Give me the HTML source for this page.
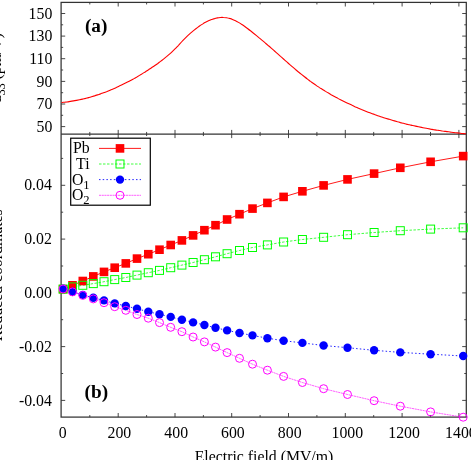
<!DOCTYPE html>
<html><head><meta charset="utf-8"><title>chart</title>
<style>html,body{margin:0;padding:0;background:#fff;width:471px;height:460px;overflow:hidden;font-family:"Liberation Serif",serif}</style>
</head><body>
<svg width="471" height="460" viewBox="0 0 471 460" style="position:absolute;left:0;top:0;will-change:transform">
<rect width="471" height="460" fill="#fff"/>
<g stroke="#333" stroke-width="1.25" fill="none">
<rect x="61.1" y="2.4" width="405.2" height="414.70000000000005"/>
<line x1="61.1" y1="134.0" x2="466.3" y2="134.0"/>
</g>
<g stroke="#333" stroke-width="0.9" fill="none">
<line x1="89.8" y1="2.4" x2="89.8" y2="4.449999999999999"/>
<line x1="89.8" y1="131.95" x2="89.8" y2="136.05"/>
<line x1="89.8" y1="417.1" x2="89.8" y2="415.05"/>
<line x1="118.2" y1="2.4" x2="118.2" y2="6.5"/>
<line x1="118.2" y1="129.9" x2="118.2" y2="138.1"/>
<line x1="118.2" y1="417.1" x2="118.2" y2="413.0"/>
<line x1="146.6" y1="2.4" x2="146.6" y2="4.449999999999999"/>
<line x1="146.6" y1="131.95" x2="146.6" y2="136.05"/>
<line x1="146.6" y1="417.1" x2="146.6" y2="415.05"/>
<line x1="175.0" y1="2.4" x2="175.0" y2="6.5"/>
<line x1="175.0" y1="129.9" x2="175.0" y2="138.1"/>
<line x1="175.0" y1="417.1" x2="175.0" y2="413.0"/>
<line x1="203.4" y1="2.4" x2="203.4" y2="4.449999999999999"/>
<line x1="203.4" y1="131.95" x2="203.4" y2="136.05"/>
<line x1="203.4" y1="417.1" x2="203.4" y2="415.05"/>
<line x1="231.7" y1="2.4" x2="231.7" y2="6.5"/>
<line x1="231.7" y1="129.9" x2="231.7" y2="138.1"/>
<line x1="231.7" y1="417.1" x2="231.7" y2="413.0"/>
<line x1="260.1" y1="2.4" x2="260.1" y2="4.449999999999999"/>
<line x1="260.1" y1="131.95" x2="260.1" y2="136.05"/>
<line x1="260.1" y1="417.1" x2="260.1" y2="415.05"/>
<line x1="288.5" y1="2.4" x2="288.5" y2="6.5"/>
<line x1="288.5" y1="129.9" x2="288.5" y2="138.1"/>
<line x1="288.5" y1="417.1" x2="288.5" y2="413.0"/>
<line x1="316.9" y1="2.4" x2="316.9" y2="4.449999999999999"/>
<line x1="316.9" y1="131.95" x2="316.9" y2="136.05"/>
<line x1="316.9" y1="417.1" x2="316.9" y2="415.05"/>
<line x1="345.3" y1="2.4" x2="345.3" y2="6.5"/>
<line x1="345.3" y1="129.9" x2="345.3" y2="138.1"/>
<line x1="345.3" y1="417.1" x2="345.3" y2="413.0"/>
<line x1="373.7" y1="2.4" x2="373.7" y2="4.449999999999999"/>
<line x1="373.7" y1="131.95" x2="373.7" y2="136.05"/>
<line x1="373.7" y1="417.1" x2="373.7" y2="415.05"/>
<line x1="402.1" y1="2.4" x2="402.1" y2="6.5"/>
<line x1="402.1" y1="129.9" x2="402.1" y2="138.1"/>
<line x1="402.1" y1="417.1" x2="402.1" y2="413.0"/>
<line x1="430.5" y1="2.4" x2="430.5" y2="4.449999999999999"/>
<line x1="430.5" y1="131.95" x2="430.5" y2="136.05"/>
<line x1="430.5" y1="417.1" x2="430.5" y2="415.05"/>
<line x1="458.9" y1="2.4" x2="458.9" y2="6.5"/>
<line x1="458.9" y1="129.9" x2="458.9" y2="138.1"/>
<line x1="458.9" y1="417.1" x2="458.9" y2="413.0"/>
<line x1="61.1" y1="126.6" x2="65.2" y2="126.6"/>
<line x1="466.3" y1="126.6" x2="462.2" y2="126.6"/>
<line x1="61.1" y1="115.3" x2="63.15" y2="115.3"/>
<line x1="466.3" y1="115.3" x2="464.25" y2="115.3"/>
<line x1="61.1" y1="104.0" x2="65.2" y2="104.0"/>
<line x1="466.3" y1="104.0" x2="462.2" y2="104.0"/>
<line x1="61.1" y1="92.7" x2="63.15" y2="92.7"/>
<line x1="466.3" y1="92.7" x2="464.25" y2="92.7"/>
<line x1="61.1" y1="81.4" x2="65.2" y2="81.4"/>
<line x1="466.3" y1="81.4" x2="462.2" y2="81.4"/>
<line x1="61.1" y1="70.0" x2="63.15" y2="70.0"/>
<line x1="466.3" y1="70.0" x2="464.25" y2="70.0"/>
<line x1="61.1" y1="58.7" x2="65.2" y2="58.7"/>
<line x1="466.3" y1="58.7" x2="462.2" y2="58.7"/>
<line x1="61.1" y1="47.4" x2="63.15" y2="47.4"/>
<line x1="466.3" y1="47.4" x2="464.25" y2="47.4"/>
<line x1="61.1" y1="36.1" x2="65.2" y2="36.1"/>
<line x1="466.3" y1="36.1" x2="462.2" y2="36.1"/>
<line x1="61.1" y1="24.8" x2="63.15" y2="24.8"/>
<line x1="466.3" y1="24.8" x2="464.25" y2="24.8"/>
<line x1="61.1" y1="13.5" x2="65.2" y2="13.5"/>
<line x1="466.3" y1="13.5" x2="462.2" y2="13.5"/>
<line x1="61.1" y1="400.4" x2="65.2" y2="400.4"/>
<line x1="466.3" y1="400.4" x2="462.2" y2="400.4"/>
<line x1="61.1" y1="373.5" x2="63.15" y2="373.5"/>
<line x1="466.3" y1="373.5" x2="464.25" y2="373.5"/>
<line x1="61.1" y1="346.6" x2="65.2" y2="346.6"/>
<line x1="466.3" y1="346.6" x2="462.2" y2="346.6"/>
<line x1="61.1" y1="319.7" x2="63.15" y2="319.7"/>
<line x1="466.3" y1="319.7" x2="464.25" y2="319.7"/>
<line x1="61.1" y1="292.9" x2="65.2" y2="292.9"/>
<line x1="466.3" y1="292.9" x2="462.2" y2="292.9"/>
<line x1="61.1" y1="266.0" x2="63.15" y2="266.0"/>
<line x1="466.3" y1="266.0" x2="464.25" y2="266.0"/>
<line x1="61.1" y1="239.1" x2="65.2" y2="239.1"/>
<line x1="466.3" y1="239.1" x2="462.2" y2="239.1"/>
<line x1="61.1" y1="212.2" x2="63.15" y2="212.2"/>
<line x1="466.3" y1="212.2" x2="464.25" y2="212.2"/>
<line x1="61.1" y1="185.3" x2="65.2" y2="185.3"/>
<line x1="466.3" y1="185.3" x2="462.2" y2="185.3"/>
<line x1="61.1" y1="158.4" x2="63.15" y2="158.4"/>
<line x1="466.3" y1="158.4" x2="464.25" y2="158.4"/>
</g>
<path d="M61.5,102.5C62.0,102.5 63.5,102.3 64.5,102.2C65.5,102.1 66.5,102.0 67.5,101.9C68.5,101.7 69.5,101.6 70.5,101.4C71.5,101.3 72.5,101.1 73.5,100.9C74.5,100.8 75.5,100.6 76.5,100.4C77.5,100.2 78.5,100.0 79.5,99.8C80.5,99.6 81.5,99.4 82.5,99.1C83.5,98.9 84.5,98.6 85.5,98.4C86.5,98.1 87.5,97.9 88.5,97.6C89.5,97.3 90.5,97.1 91.5,96.8C92.5,96.5 93.5,96.2 94.5,95.9C95.5,95.5 96.5,95.2 97.5,94.9C98.5,94.6 99.5,94.2 100.5,93.9C101.5,93.5 102.5,93.2 103.5,92.8C104.5,92.4 105.5,92.0 106.5,91.7C107.5,91.3 108.5,90.9 109.5,90.5C110.5,90.1 111.5,89.6 112.5,89.2C113.5,88.8 114.5,88.4 115.5,87.9C116.5,87.5 117.5,87.0 118.5,86.5C119.5,86.1 120.5,85.6 121.5,85.1C122.5,84.6 123.5,84.1 124.5,83.6C125.5,83.1 126.5,82.6 127.5,82.1C128.5,81.6 129.5,81.1 130.5,80.5C131.5,80.0 132.5,79.4 133.5,78.9C134.5,78.3 135.5,77.7 136.5,77.2C137.5,76.6 138.5,76.0 139.5,75.4C140.5,74.8 141.5,74.2 142.5,73.6C143.5,73.0 144.5,72.3 145.5,71.7C146.5,71.1 147.5,70.4 148.5,69.8C149.5,69.1 150.5,68.5 151.5,67.8C152.5,67.1 153.5,66.5 154.5,65.8C155.5,65.1 156.5,64.4 157.5,63.7C158.5,62.9 159.5,62.2 160.5,61.4C161.5,60.7 162.5,59.9 163.5,59.1C164.5,58.3 165.5,57.5 166.5,56.7C167.5,55.8 168.5,55.0 169.5,54.1C170.5,53.2 171.5,52.3 172.5,51.3C173.5,50.4 174.5,49.4 175.5,48.4C176.5,47.4 177.5,46.3 178.5,45.3C179.5,44.2 180.5,43.1 181.5,42.0C182.5,40.9 183.5,39.8 184.5,38.8C185.5,37.8 186.5,36.8 187.5,35.8C188.5,34.9 189.5,34.0 190.5,33.1C191.5,32.2 192.5,31.4 193.5,30.6C194.5,29.8 195.5,29.0 196.5,28.2C197.5,27.5 198.5,26.7 199.5,26.0C200.5,25.3 201.5,24.7 202.5,24.1C203.5,23.4 204.5,22.8 205.5,22.3C206.5,21.8 207.5,21.3 208.5,20.8C209.5,20.3 210.5,19.9 211.5,19.5C212.5,19.2 213.5,18.8 214.5,18.6C215.5,18.3 216.5,18.1 217.5,17.9C218.5,17.7 219.5,17.6 220.5,17.5C221.5,17.4 222.5,17.4 223.5,17.5C224.5,17.5 225.5,17.6 226.5,17.7C227.5,17.9 228.5,18.1 229.5,18.4C230.5,18.6 231.5,19.0 232.5,19.4C233.5,19.8 234.5,20.2 235.5,20.7C236.5,21.2 237.5,21.8 238.5,22.4C239.5,23.0 240.5,23.6 241.5,24.3C242.5,24.9 243.5,25.6 244.5,26.3C245.5,27.1 246.5,27.8 247.5,28.5C248.5,29.3 249.5,30.1 250.5,30.8C251.5,31.6 252.5,32.4 253.5,33.2C254.5,34.0 255.5,34.8 256.5,35.6C257.5,36.4 258.5,37.2 259.5,38.1C260.5,38.9 261.5,39.8 262.5,40.6C263.5,41.4 264.5,42.3 265.5,43.2C266.5,44.0 267.5,44.9 268.5,45.8C269.5,46.6 270.5,47.5 271.5,48.4C272.5,49.3 273.5,50.1 274.5,51.0C275.5,51.9 276.5,52.8 277.5,53.7C278.5,54.6 279.5,55.5 280.5,56.4C281.5,57.2 282.5,58.1 283.5,59.0C284.5,59.9 285.5,60.8 286.5,61.7C287.5,62.6 288.5,63.4 289.5,64.3C290.5,65.2 291.5,66.0 292.5,66.9C293.5,67.8 294.5,68.6 295.5,69.5C296.5,70.3 297.5,71.1 298.5,72.0C299.5,72.8 300.5,73.6 301.5,74.4C302.5,75.2 303.5,76.0 304.5,76.8C305.5,77.6 306.5,78.4 307.5,79.1C308.5,79.9 309.5,80.6 310.5,81.4C311.5,82.1 312.5,82.8 313.5,83.5C314.5,84.2 315.5,84.9 316.5,85.6C317.5,86.3 318.5,86.9 319.5,87.6C320.5,88.2 321.5,88.9 322.5,89.5C323.5,90.1 324.5,90.7 325.5,91.4C326.5,92.0 327.5,92.6 328.5,93.1C329.5,93.7 330.5,94.3 331.5,94.9C332.5,95.4 333.5,96.0 334.5,96.5C335.5,97.1 336.5,97.6 337.5,98.1C338.5,98.7 339.5,99.2 340.5,99.7C341.5,100.2 342.5,100.7 343.5,101.2C344.5,101.7 345.5,102.2 346.5,102.7C347.5,103.2 348.5,103.7 349.5,104.1C350.5,104.6 351.5,105.1 352.5,105.5C353.5,106.0 354.5,106.4 355.5,106.9C356.5,107.3 357.5,107.8 358.5,108.2C359.5,108.6 360.5,109.0 361.5,109.5C362.5,109.9 363.5,110.3 364.5,110.7C365.5,111.1 366.5,111.5 367.5,111.9C368.5,112.3 369.5,112.6 370.5,113.0C371.5,113.4 372.5,113.8 373.5,114.1C374.5,114.5 375.5,114.8 376.5,115.2C377.5,115.6 378.5,115.9 379.5,116.2C380.5,116.6 381.5,116.9 382.5,117.2C383.5,117.6 384.5,117.9 385.5,118.2C386.5,118.5 387.5,118.8 388.5,119.1C389.5,119.5 390.5,119.8 391.5,120.0C392.5,120.3 393.5,120.6 394.5,120.9C395.5,121.2 396.5,121.5 397.5,121.8C398.5,122.0 399.5,122.3 400.5,122.6C401.5,122.8 402.5,123.1 403.5,123.3C404.5,123.6 405.5,123.8 406.5,124.1C407.5,124.3 408.5,124.6 409.5,124.8C410.5,125.0 411.5,125.3 412.5,125.5C413.5,125.7 414.5,125.9 415.5,126.1C416.5,126.4 417.5,126.6 418.5,126.8C419.5,127.0 420.5,127.2 421.5,127.4C422.5,127.6 423.5,127.8 424.5,128.0C425.5,128.2 426.5,128.4 427.5,128.5C428.5,128.7 429.5,128.9 430.5,129.1C431.5,129.2 432.5,129.4 433.5,129.6C434.5,129.7 435.5,129.9 436.5,130.1C437.5,130.2 438.5,130.4 439.5,130.5C440.5,130.7 441.5,130.8 442.5,131.0C443.5,131.1 444.5,131.3 445.5,131.4C446.5,131.5 447.5,131.7 448.5,131.8C449.5,131.9 450.5,132.1 451.5,132.2C452.5,132.3 453.5,132.4 454.5,132.6C455.5,132.7 456.5,132.8 457.5,132.9C458.5,133.0 459.5,133.1 460.5,133.2C461.5,133.4 462.6,133.5 463.5,133.6C464.4,133.7 465.6,133.8 466.0,133.8" fill="none" stroke="#ff0000" stroke-width="1.1"/>
<polyline points="63.1,289.1 72.5,285.3 82.8,281.0 93.3,276.4 104.0,271.9 114.7,267.7 125.8,263.4 137.0,258.6 148.3,254.2 159.5,249.7 170.7,245.0 181.9,240.4 193.1,235.4 204.4,230.2 215.5,225.2 227.1,219.5 239.5,214.2 252.5,208.6 267.4,202.9 283.6,196.9 302.4,191.3 323.6,185.4 347.5,179.4 374.1,173.6 400.3,167.8 430.6,161.8 463.2,156.1" fill="none" stroke="#ff0000" stroke-width="0.9"/>
<polyline points="63.1,289.1 72.5,286.9 82.8,285.3 93.3,283.6 104.0,281.7 114.7,279.6 125.8,277.5 137.0,275.1 148.3,272.7 159.5,270.4 170.7,267.7 181.9,265.1 193.1,262.5 204.4,259.7 215.5,256.8 227.1,253.7 239.5,250.5 252.5,247.5 267.4,244.9 283.6,242.0 302.4,239.5 323.6,237.3 347.5,234.7 374.1,232.5 400.3,230.7 430.6,229.1 463.2,227.8" fill="none" stroke="#00ff00" stroke-width="1" stroke-opacity="0.75" stroke-dasharray="2.5 1.5"/>
<polyline points="63.1,288.6 72.5,291.7 82.8,294.9 93.3,297.8 104.0,300.4 114.7,303.4 125.8,306.0 137.0,308.8 148.3,311.7 159.5,314.3 170.7,316.9 181.9,319.7 193.1,322.4 204.4,325.0 215.5,327.8 227.1,330.4 239.5,333.0 252.5,335.4 267.4,338.2 283.6,340.7 302.4,342.9 323.6,345.5 347.5,347.7 374.1,350.3 400.3,352.4 430.6,354.2 463.2,356.0" fill="none" stroke="#0000ff" stroke-width="1" stroke-opacity="0.85" stroke-dasharray="1.5 2.2"/>
<polyline points="63.1,289.0 72.5,291.9 82.8,295.4 93.3,298.9 104.0,302.7 114.7,306.7 125.8,310.3 137.0,314.5 148.3,318.2 159.5,322.6 170.7,327.3 181.9,331.7 193.1,337.0 204.4,341.9 215.5,347.1 227.1,352.6 239.5,358.3 252.5,364.2 267.4,370.2 283.6,376.4 302.4,382.5 323.6,388.7 347.5,394.5 374.1,400.7 400.3,406.2 430.6,411.9 463.2,417.2" fill="none" stroke="#ff00ff" stroke-width="0.9" stroke-opacity="0.7" stroke-dasharray="2.1 0.6"/>
<rect x="58.8" y="284.8" width="8.6" height="8.6" fill="#ff0000"/>
<rect x="68.2" y="281.0" width="8.6" height="8.6" fill="#ff0000"/>
<rect x="78.5" y="276.7" width="8.6" height="8.6" fill="#ff0000"/>
<rect x="89.0" y="272.1" width="8.6" height="8.6" fill="#ff0000"/>
<rect x="99.7" y="267.6" width="8.6" height="8.6" fill="#ff0000"/>
<rect x="110.4" y="263.4" width="8.6" height="8.6" fill="#ff0000"/>
<rect x="121.5" y="259.1" width="8.6" height="8.6" fill="#ff0000"/>
<rect x="132.7" y="254.3" width="8.6" height="8.6" fill="#ff0000"/>
<rect x="144.0" y="249.9" width="8.6" height="8.6" fill="#ff0000"/>
<rect x="155.2" y="245.4" width="8.6" height="8.6" fill="#ff0000"/>
<rect x="166.4" y="240.7" width="8.6" height="8.6" fill="#ff0000"/>
<rect x="177.6" y="236.1" width="8.6" height="8.6" fill="#ff0000"/>
<rect x="188.8" y="231.1" width="8.6" height="8.6" fill="#ff0000"/>
<rect x="200.1" y="225.9" width="8.6" height="8.6" fill="#ff0000"/>
<rect x="211.2" y="220.9" width="8.6" height="8.6" fill="#ff0000"/>
<rect x="222.8" y="215.2" width="8.6" height="8.6" fill="#ff0000"/>
<rect x="235.2" y="209.9" width="8.6" height="8.6" fill="#ff0000"/>
<rect x="248.2" y="204.3" width="8.6" height="8.6" fill="#ff0000"/>
<rect x="263.1" y="198.6" width="8.6" height="8.6" fill="#ff0000"/>
<rect x="279.3" y="192.6" width="8.6" height="8.6" fill="#ff0000"/>
<rect x="298.1" y="187.0" width="8.6" height="8.6" fill="#ff0000"/>
<rect x="319.3" y="181.1" width="8.6" height="8.6" fill="#ff0000"/>
<rect x="343.2" y="175.1" width="8.6" height="8.6" fill="#ff0000"/>
<rect x="369.8" y="169.3" width="8.6" height="8.6" fill="#ff0000"/>
<rect x="396.0" y="163.5" width="8.6" height="8.6" fill="#ff0000"/>
<rect x="426.3" y="157.5" width="8.6" height="8.6" fill="#ff0000"/>
<rect x="458.9" y="151.8" width="8.6" height="8.6" fill="#ff0000"/>
<rect x="59.1" y="285.1" width="8" height="8" fill="none" stroke="#00ff00" stroke-width="1"/>
<rect x="68.5" y="282.9" width="8" height="8" fill="none" stroke="#00ff00" stroke-width="1"/>
<rect x="78.8" y="281.3" width="8" height="8" fill="none" stroke="#00ff00" stroke-width="1"/>
<rect x="89.3" y="279.6" width="8" height="8" fill="none" stroke="#00ff00" stroke-width="1"/>
<rect x="100.0" y="277.7" width="8" height="8" fill="none" stroke="#00ff00" stroke-width="1"/>
<rect x="110.7" y="275.6" width="8" height="8" fill="none" stroke="#00ff00" stroke-width="1"/>
<rect x="121.8" y="273.5" width="8" height="8" fill="none" stroke="#00ff00" stroke-width="1"/>
<rect x="133.0" y="271.1" width="8" height="8" fill="none" stroke="#00ff00" stroke-width="1"/>
<rect x="144.3" y="268.7" width="8" height="8" fill="none" stroke="#00ff00" stroke-width="1"/>
<rect x="155.5" y="266.4" width="8" height="8" fill="none" stroke="#00ff00" stroke-width="1"/>
<rect x="166.7" y="263.7" width="8" height="8" fill="none" stroke="#00ff00" stroke-width="1"/>
<rect x="177.9" y="261.1" width="8" height="8" fill="none" stroke="#00ff00" stroke-width="1"/>
<rect x="189.1" y="258.5" width="8" height="8" fill="none" stroke="#00ff00" stroke-width="1"/>
<rect x="200.4" y="255.7" width="8" height="8" fill="none" stroke="#00ff00" stroke-width="1"/>
<rect x="211.5" y="252.8" width="8" height="8" fill="none" stroke="#00ff00" stroke-width="1"/>
<rect x="223.1" y="249.7" width="8" height="8" fill="none" stroke="#00ff00" stroke-width="1"/>
<rect x="235.5" y="246.5" width="8" height="8" fill="none" stroke="#00ff00" stroke-width="1"/>
<rect x="248.5" y="243.5" width="8" height="8" fill="none" stroke="#00ff00" stroke-width="1"/>
<rect x="263.4" y="240.9" width="8" height="8" fill="none" stroke="#00ff00" stroke-width="1"/>
<rect x="279.6" y="238.0" width="8" height="8" fill="none" stroke="#00ff00" stroke-width="1"/>
<rect x="298.4" y="235.5" width="8" height="8" fill="none" stroke="#00ff00" stroke-width="1"/>
<rect x="319.6" y="233.3" width="8" height="8" fill="none" stroke="#00ff00" stroke-width="1"/>
<rect x="343.5" y="230.7" width="8" height="8" fill="none" stroke="#00ff00" stroke-width="1"/>
<rect x="370.1" y="228.5" width="8" height="8" fill="none" stroke="#00ff00" stroke-width="1"/>
<rect x="396.3" y="226.7" width="8" height="8" fill="none" stroke="#00ff00" stroke-width="1"/>
<rect x="426.6" y="225.1" width="8" height="8" fill="none" stroke="#00ff00" stroke-width="1"/>
<rect x="459.2" y="223.8" width="8" height="8" fill="none" stroke="#00ff00" stroke-width="1"/>
<circle cx="63.1" cy="288.6" r="4.2" fill="#0000ff"/>
<circle cx="72.5" cy="291.7" r="4.2" fill="#0000ff"/>
<circle cx="82.8" cy="294.9" r="4.2" fill="#0000ff"/>
<circle cx="93.3" cy="297.8" r="4.2" fill="#0000ff"/>
<circle cx="104.0" cy="300.4" r="4.2" fill="#0000ff"/>
<circle cx="114.7" cy="303.4" r="4.2" fill="#0000ff"/>
<circle cx="125.8" cy="306.0" r="4.2" fill="#0000ff"/>
<circle cx="137.0" cy="308.8" r="4.2" fill="#0000ff"/>
<circle cx="148.3" cy="311.7" r="4.2" fill="#0000ff"/>
<circle cx="159.5" cy="314.3" r="4.2" fill="#0000ff"/>
<circle cx="170.7" cy="316.9" r="4.2" fill="#0000ff"/>
<circle cx="181.9" cy="319.7" r="4.2" fill="#0000ff"/>
<circle cx="193.1" cy="322.4" r="4.2" fill="#0000ff"/>
<circle cx="204.4" cy="325.0" r="4.2" fill="#0000ff"/>
<circle cx="215.5" cy="327.8" r="4.2" fill="#0000ff"/>
<circle cx="227.1" cy="330.4" r="4.2" fill="#0000ff"/>
<circle cx="239.5" cy="333.0" r="4.2" fill="#0000ff"/>
<circle cx="252.5" cy="335.4" r="4.2" fill="#0000ff"/>
<circle cx="267.4" cy="338.2" r="4.2" fill="#0000ff"/>
<circle cx="283.6" cy="340.7" r="4.2" fill="#0000ff"/>
<circle cx="302.4" cy="342.9" r="4.2" fill="#0000ff"/>
<circle cx="323.6" cy="345.5" r="4.2" fill="#0000ff"/>
<circle cx="347.5" cy="347.7" r="4.2" fill="#0000ff"/>
<circle cx="374.1" cy="350.3" r="4.2" fill="#0000ff"/>
<circle cx="400.3" cy="352.4" r="4.2" fill="#0000ff"/>
<circle cx="430.6" cy="354.2" r="4.2" fill="#0000ff"/>
<circle cx="463.2" cy="356.0" r="4.2" fill="#0000ff"/>
<circle cx="63.1" cy="289.0" r="4" fill="none" stroke="#ff00ff" stroke-width="1"/>
<circle cx="72.5" cy="291.9" r="4" fill="none" stroke="#ff00ff" stroke-width="1"/>
<circle cx="82.8" cy="295.4" r="4" fill="none" stroke="#ff00ff" stroke-width="1"/>
<circle cx="93.3" cy="298.9" r="4" fill="none" stroke="#ff00ff" stroke-width="1"/>
<circle cx="104.0" cy="302.7" r="4" fill="none" stroke="#ff00ff" stroke-width="1"/>
<circle cx="114.7" cy="306.7" r="4" fill="none" stroke="#ff00ff" stroke-width="1"/>
<circle cx="125.8" cy="310.3" r="4" fill="none" stroke="#ff00ff" stroke-width="1"/>
<circle cx="137.0" cy="314.5" r="4" fill="none" stroke="#ff00ff" stroke-width="1"/>
<circle cx="148.3" cy="318.2" r="4" fill="none" stroke="#ff00ff" stroke-width="1"/>
<circle cx="159.5" cy="322.6" r="4" fill="none" stroke="#ff00ff" stroke-width="1"/>
<circle cx="170.7" cy="327.3" r="4" fill="none" stroke="#ff00ff" stroke-width="1"/>
<circle cx="181.9" cy="331.7" r="4" fill="none" stroke="#ff00ff" stroke-width="1"/>
<circle cx="193.1" cy="337.0" r="4" fill="none" stroke="#ff00ff" stroke-width="1"/>
<circle cx="204.4" cy="341.9" r="4" fill="none" stroke="#ff00ff" stroke-width="1"/>
<circle cx="215.5" cy="347.1" r="4" fill="none" stroke="#ff00ff" stroke-width="1"/>
<circle cx="227.1" cy="352.6" r="4" fill="none" stroke="#ff00ff" stroke-width="1"/>
<circle cx="239.5" cy="358.3" r="4" fill="none" stroke="#ff00ff" stroke-width="1"/>
<circle cx="252.5" cy="364.2" r="4" fill="none" stroke="#ff00ff" stroke-width="1"/>
<circle cx="267.4" cy="370.2" r="4" fill="none" stroke="#ff00ff" stroke-width="1"/>
<circle cx="283.6" cy="376.4" r="4" fill="none" stroke="#ff00ff" stroke-width="1"/>
<circle cx="302.4" cy="382.5" r="4" fill="none" stroke="#ff00ff" stroke-width="1"/>
<circle cx="323.6" cy="388.7" r="4" fill="none" stroke="#ff00ff" stroke-width="1"/>
<circle cx="347.5" cy="394.5" r="4" fill="none" stroke="#ff00ff" stroke-width="1"/>
<circle cx="374.1" cy="400.7" r="4" fill="none" stroke="#ff00ff" stroke-width="1"/>
<circle cx="400.3" cy="406.2" r="4" fill="none" stroke="#ff00ff" stroke-width="1"/>
<circle cx="430.6" cy="411.9" r="4" fill="none" stroke="#ff00ff" stroke-width="1"/>
<circle cx="463.2" cy="417.2" r="4" fill="none" stroke="#ff00ff" stroke-width="1"/>
<rect x="70.7" y="138.2" width="79.6" height="67" fill="#fff" stroke="#000" stroke-width="1.2"/>
<line x1="99" y1="148.4" x2="141" y2="148.4" stroke="#ff0000" stroke-width="0.9"/>
<line x1="99" y1="164.0" x2="141" y2="164.0" stroke="#00ff00" stroke-width="1" stroke-opacity="0.75" stroke-dasharray="2.5 1.5"/>
<line x1="99" y1="179.6" x2="141" y2="179.6" stroke="#0000ff" stroke-width="1" stroke-opacity="0.85" stroke-dasharray="1.5 2.2"/>
<line x1="99" y1="195.3" x2="141" y2="195.3" stroke="#ff00ff" stroke-width="0.9" stroke-opacity="0.7" stroke-dasharray="2.1 0.6"/>
<rect x="115.7" y="144.1" width="8.6" height="8.6" fill="#ff0000"/>
<rect x="116" y="160.0" width="8" height="8" fill="none" stroke="#00ff00" stroke-width="1"/>
<circle cx="120" cy="179.6" r="4.2" fill="#0000ff"/>
<circle cx="120" cy="195.3" r="4" fill="none" stroke="#ff00ff" stroke-width="1"/>
<g font-family="Liberation Serif, serif" font-size="15.8" fill="#000">
<text x="52.3" y="131.7" text-anchor="end">50</text>
<text x="52.3" y="109.1" text-anchor="end">70</text>
<text x="52.3" y="86.5" text-anchor="end">90</text>
<text x="52.3" y="63.8" text-anchor="end">110</text>
<text x="52.3" y="41.2" text-anchor="end">130</text>
<text x="52.3" y="18.6" text-anchor="end">150</text>
<text x="51.8" y="190.4" text-anchor="end">0.04</text>
<text x="51.8" y="244.2" text-anchor="end">0.02</text>
<text x="51.8" y="298.0" text-anchor="end">0.00</text>
<text x="51.8" y="351.7" text-anchor="end">-0.02</text>
<text x="51.8" y="405.5" text-anchor="end">-0.04</text>
<text x="62.7" y="438" text-anchor="middle">0</text>
<text x="119.4" y="438" text-anchor="middle">200</text>
<text x="176.2" y="438" text-anchor="middle">400</text>
<text x="232.9" y="438" text-anchor="middle">600</text>
<text x="289.7" y="438" text-anchor="middle">800</text>
<text x="347.3" y="438" text-anchor="middle">1000</text>
<text x="404.1" y="438" text-anchor="middle">1200</text>
<text x="460.9" y="438" text-anchor="middle">1400</text>
<text x="264" y="462" text-anchor="middle">Electric field (MV/m)</text>
<text x="89.6" y="153.4" text-anchor="end">Pb</text>
<text x="89.6" y="169.0" text-anchor="end">Ti</text>
<text x="89.6" y="184.6" text-anchor="end">O<tspan font-size="12.6" dy="4">1</tspan></text>
<text x="89.6" y="200.3" text-anchor="end">O<tspan font-size="12.6" dy="4">2</tspan></text>
<text transform="translate(1.7,275.3) rotate(-90)" text-anchor="middle">Reduced coordinates</text>
<text transform="translate(0.9,68.1) rotate(-90)" text-anchor="middle">d<tspan font-size="11.8" dy="3.7">33</tspan><tspan dy="-3.7"> (pm/V)</tspan></text>
</g>
<g font-family="Liberation Serif, serif" font-size="19.3" font-weight="bold" fill="#000">
<text x="96.2" y="31.6" text-anchor="middle">(a)</text>
<text x="96.4" y="397.5" text-anchor="middle">(b)</text>
</g>
</svg>
</body></html>
